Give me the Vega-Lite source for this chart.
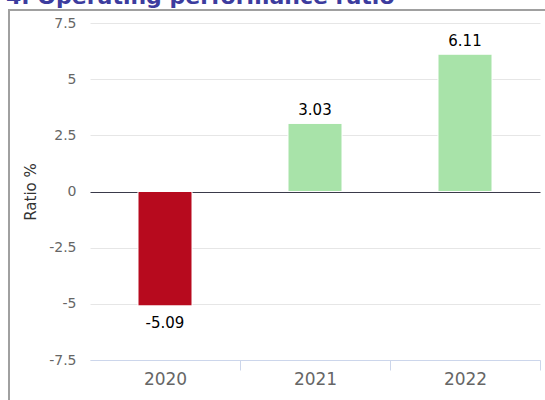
{
  "$schema": "https://vega.github.io/schema/vega-lite/v6.json",
  "autosize": "none",
  "width": 640,
  "height": 420,
  "padding": {"left": 9, "top": 10, "right": -104, "bottom": -30},
  "background": "white",
  "title": {
    "text": "4. Operating performance ratio",
    "anchor": "start",
    "frame": "group",
    "font": "DejaVu Sans",
    "fontSize": 22,
    "fontWeight": "bold",
    "color": "#3c3c9e",
    "baseline": "alphabetic",
    "offset": 0,
    "dy": 16,
    "dx": -3
  },
  "data": {
    "values": [
      {"year": "2020", "value": -5.09},
      {"year": "2021", "value": 3.03},
      {"year": "2022", "value": 6.11}
    ]
  },
  "encoding": {
    "x": {
      "field": "year",
      "type": "nominal",
      "sort": null,
      "scale": {"range": [81, 531], "paddingInner": 0.64, "paddingOuter": 0.32},
      "axis": {
        "title": null,
        "orient": "bottom",
        "offset": -70,
        "labelAngle": 0,
        "domainColor": "#ccd6eb",
        "tickColor": "#ccd6eb",
        "tickSize": 10,
        "tickBand": "center",
        "tickOffset": 75,
        "labelOffset": -75,
        "tickExtra": true,
        "labelFontSize": 17,
        "labelColor": "#666666",
        "labelPadding": 1,
        "grid": false
      }
    },
    "y": {
      "field": "value",
      "type": "quantitative",
      "scale": {"domain": [-7.5, 7.5], "range": [350, 13], "nice": false, "zero": false},
      "axis": {
        "title": "Ratio %",
        "orient": "left",
        "offset": -81,
        "values": [-7.5, -5, -2.5, 0, 2.5, 5, 7.5],
        "labelExpr": "datum.value + ''",
        "domain": false,
        "ticks": false,
        "labelPadding": 14,
        "labelFontSize": 14,
        "labelColor": "#666666",
        "gridColor": {"condition": {"test": "datum.value === 0", "value": "#3a3a4a"}, "value": "#e6e6e6"},
        "titleFontSize": 15,
        "titleFontWeight": "normal",
        "titleColor": "#333333",
        "titlePadding": 10
      }
    }
  },
  "layer": [
    {
      "mark": {"type": "bar", "stroke": "#ffffff", "strokeWidth": 1},
      "encoding": {
        "color": {"condition": {"test": "datum.value < 0", "value": "#b70a1e"}, "value": "#a8e3a9"}
      }
    },
    {
      "transform": [{"filter": "datum.value >= 0"}],
      "mark": {"type": "text", "baseline": "bottom", "dy": -5, "fontSize": 15, "color": "#000000"},
      "encoding": {"text": {"field": "value", "type": "nominal"}}
    },
    {
      "transform": [{"filter": "datum.value < 0"}],
      "mark": {"type": "text", "baseline": "top", "dy": 10, "fontSize": 15, "color": "#000000"},
      "encoding": {"text": {"field": "value", "type": "nominal"}}
    }
  ],
  "config": {
    "font": "DejaVu Sans",
    "view": {"stroke": "#a0a0a0", "strokeWidth": 2, "strokeDash": [536, 926, 1000]}
  }
}
